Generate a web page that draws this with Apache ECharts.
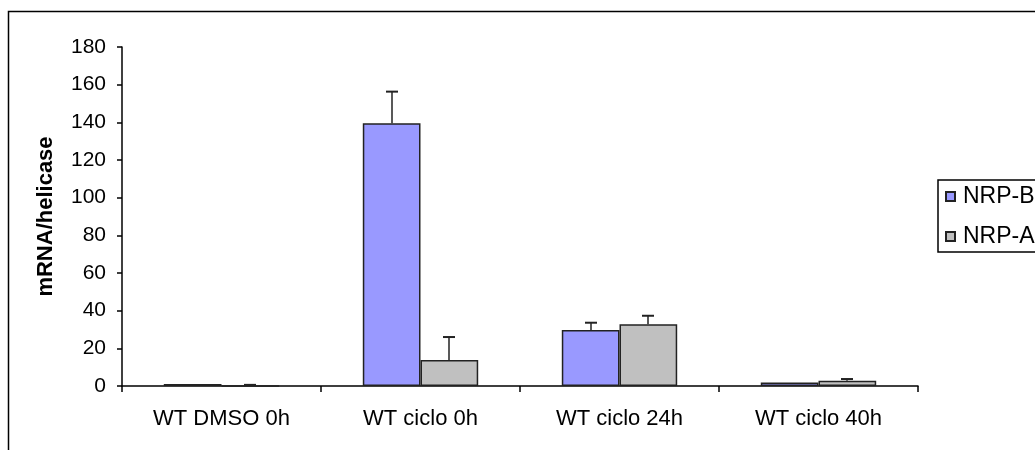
<!DOCTYPE html>
<html>
<head>
<meta charset="utf-8">
<script src="https://cdn.jsdelivr.net/npm/echarts@6/dist/echarts.min.js"></script>
<style>html,body{margin:0;padding:0;background:#fff;}#c{width:1035px;height:450px;}</style>
</head>
<body>
<div id="c"></div>
<script>
const categories = ['WT DMSO 0h', 'WT ciclo 0h', 'WT ciclo 24h', 'WT ciclo 40h'];
const seriesNames = ['NRP-B', 'NRP-A'];
const nrpB = [1.0, 139.5, 29.7, 1.8];
const nrpBErr = [0, 16.8, 3.9, 0];
const nrpA = [0.1, 13.8, 32.8, 2.8];
const nrpAErr = [0.5, 12.2, 4.5, 0.9];
const yTicks = [0, 20, 40, 60, 80, 100, 120, 140, 160, 180];

const FONT = '"Liberation Sans", Arial, sans-serif';
const BAR_FRAC = 0.29;

function errSeries(vals, errs, side) {
  return {
    type: 'custom',
    z: 5,
    silent: true,
    data: vals.map((v, i) => [i, v, errs[i]]),
    renderItem: function (params, api) {
      const i = api.value(0), v = api.value(1), e = api.value(2);
      if (!e) return null;
      const band = api.size([1, 0])[0];
      const off = side * band * BAR_FRAC / 2;
      const p0 = api.coord([i, v]);
      const p1 = api.coord([i, v + e]);
      const x = Math.round(p0[0] + off);
      const hw = 6;
      return {
        type: 'group',
        children: [
          { type: 'line', shape: { x1: x, y1: p0[1], x2: x, y2: p1[1] }, style: { stroke: '#222', lineWidth: 1.5 } },
          { type: 'line', shape: { x1: x - hw, y1: p1[1], x2: x + hw, y2: p1[1] }, style: { stroke: '#222', lineWidth: 2 } }
        ]
      };
    }
  };
}

const chart = echarts.init(document.getElementById('c'), null, { renderer: 'canvas' });
chart.setOption({
  animation: false,
  backgroundColor: '#fff',
  graphic: [{
    type: 'rect', left: 6, top: 9, silent: true,
    shape: { width: 1100, height: 500 },
    style: { fill: 'none', stroke: '#000', lineWidth: 1.5 }
  }],
  grid: { left: 122, right: 117, top: 47, bottom: 64 },
  legend: {
    orient: 'vertical',
    left: 938, top: 180,
    data: seriesNames,
    icon: 'rect',
    itemWidth: 9, itemHeight: 9,
    itemGap: 17,
    padding: [5, 20, 4, 7],
    borderColor: '#000', borderWidth: 1.5,
    textStyle: { fontFamily: FONT, fontSize: 23, color: '#000', padding: [0, 0, 0, 3] }
  },
  xAxis: {
    type: 'category',
    data: categories,
    axisLine: { lineStyle: { color: '#000', width: 1.5 } },
    axisTick: { show: true, length: 6, lineStyle: { color: '#000', width: 1.5 } },
    axisLabel: { fontFamily: FONT, fontSize: 22, color: '#000', margin: 22 }
  },
  yAxis: {
    type: 'value',
    min: 0, max: 180, interval: 20,
    name: 'mRNA/helicase',
    nameLocation: 'middle',
    nameGap: 65,
    nameTextStyle: { fontFamily: FONT, fontSize: 22, fontWeight: 'bold', color: '#000' },
    splitLine: { show: false },
    axisLine: { show: true, lineStyle: { color: '#000', width: 1.5 } },
    axisTick: { show: true, length: 5, lineStyle: { color: '#000', width: 1.5 } },
    axisLabel: { fontFamily: FONT, fontSize: 21, color: '#000', margin: 16,
      formatter: v => yTicks.indexOf(v) >= 0 ? String(v) : '' }
  },
  series: [
    { name: seriesNames[0], type: 'bar', data: nrpB, barWidth: (BAR_FRAC * 100) + '%', barGap: '0%',
      itemStyle: { color: '#9999FF', borderColor: '#222', borderWidth: 1.5 } },
    { name: seriesNames[1], type: 'bar', data: nrpA, barWidth: (BAR_FRAC * 100) + '%', barGap: '0%',
      itemStyle: { color: '#C0C0C0', borderColor: '#222', borderWidth: 1.5 } },
    errSeries(nrpB, nrpBErr, -1),
    errSeries(nrpA, nrpAErr, 1)
  ]
});
</script>
</body>
</html>
